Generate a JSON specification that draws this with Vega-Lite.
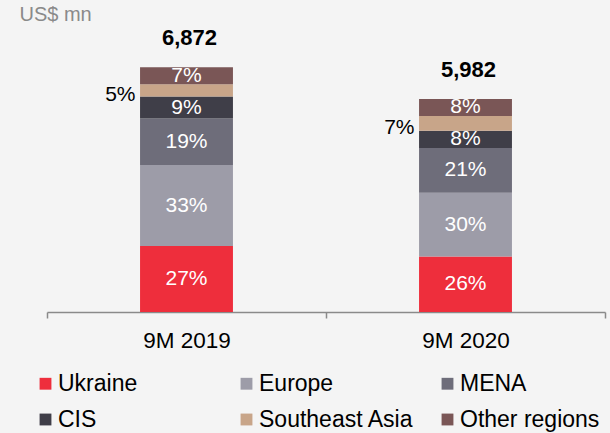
{
  "$schema": "https://vega.github.io/schema/vega-lite/v6.json",
  "width": 558,
  "height": 285,
  "autosize": {"type": "none"},
  "padding": {"left": 47, "top": 27, "right": 5, "bottom": 121},
  "background": "#f4f4f4",
  "config": {"view": {"stroke": null}, "font": "Liberation Sans"},
  "datasets": {
    "regions": [
      {"period": "9M 2019", "region": "Ukraine", "value": 1855, "pct": "27%", "order": 1},
      {"period": "9M 2019", "region": "Europe", "value": 2268, "pct": "33%", "order": 2},
      {"period": "9M 2019", "region": "MENA", "value": 1306, "pct": "19%", "order": 3},
      {"period": "9M 2019", "region": "CIS", "value": 618, "pct": "9%", "order": 4},
      {"period": "9M 2019", "region": "Southeast Asia", "value": 344, "pct": "5%", "order": 5},
      {"period": "9M 2019", "region": "Other regions", "value": 481, "pct": "7%", "order": 6},
      {"period": "9M 2020", "region": "Ukraine", "value": 1555, "pct": "26%", "order": 1},
      {"period": "9M 2020", "region": "Europe", "value": 1795, "pct": "30%", "order": 2},
      {"period": "9M 2020", "region": "MENA", "value": 1256, "pct": "21%", "order": 3},
      {"period": "9M 2020", "region": "CIS", "value": 479, "pct": "8%", "order": 4},
      {"period": "9M 2020", "region": "Southeast Asia", "value": 419, "pct": "7%", "order": 5},
      {"period": "9M 2020", "region": "Other regions", "value": 478, "pct": "8%", "order": 6}
    ],
    "totals": [
      {"period": "9M 2019", "total": 6872, "label": "6,872"},
      {"period": "9M 2020", "total": 5982, "label": "5,982"}
    ]
  },
  "layer": [
    {
      "data": {"name": "regions"},
      "transform": [
        {"stack": "value", "groupby": ["period"], "sort": [{"field": "order"}], "as": ["y0", "y1"]}
      ],
      "mark": {"type": "bar", "width": {"band": 0.333}},
      "encoding": {
        "x": {"field": "period", "type": "nominal", "title": null,
              "scale": {"paddingInner": 0, "paddingOuter": 0},
              "axis": {"labelAngle": 0, "labelFontSize": 22.5, "labelColor": "#000", "labelFont": "Liberation Sans",
                       "domainColor": "#8a8a8a", "domainWidth": 1.5, "tickColor": "#8a8a8a", "tickWidth": 1.5, "tickSize": 6,
                       "tickBand": "extent", "labelPadding": 11}},
        "y": {"field": "y0", "type": "quantitative", "scale": {"domain": [0, 8000]},
              "axis": {"labels": false, "ticks": false, "domain": false, "grid": false,
                       "title": "US$ mn", "titleAngle": 0, "titleX": -28, "titleY": -13, "titleAlign": "left",
                       "titleBaseline": "middle", "titleFontSize": 20, "titleFontWeight": "normal",
                       "titleColor": "#8a8a8a", "titleFont": "Liberation Sans"}},
        "y2": {"field": "y1"},
        "color": {"field": "region", "type": "nominal",
                  "scale": {"domain": ["Ukraine", "Europe", "MENA", "CIS", "Southeast Asia", "Other regions"],
                            "range": ["#ee2e3c", "#9d9ca8", "#6e6d7a", "#3f3e48", "#c8a589", "#7a5656"]},
                  "legend": {"title": null, "orient": "none", "legendX": -13, "legendY": 345, "columns": 3,
                             "direction": "horizontal", "gridAlign": "all", "symbolType": "square", "symbolSize": 140,
                             "symbolStrokeWidth": 0, "labelFontSize": 23, "labelColor": "#000", "labelFont": "Liberation Sans",
                             "labelOffset": 1, "columnPadding": 22, "rowPadding": 12, "labelLimit": 300}}
      }
    },
    {
      "data": {"name": "regions"},
      "transform": [
        {"stack": "value", "groupby": ["period"], "sort": [{"field": "order"}], "as": ["y0", "y1"]},
        {"calculate": "(datum.y0 + datum.y1) / 2", "as": "mid"},
        {"filter": "datum.region !== 'Southeast Asia'"}
      ],
      "mark": {"type": "text", "color": "white", "fontSize": 21, "font": "Liberation Sans", "baseline": "middle"},
      "encoding": {
        "x": {"field": "period", "type": "nominal"},
        "y": {"field": "mid", "type": "quantitative"},
        "text": {"field": "pct"}
      }
    },
    {
      "data": {"name": "regions"},
      "transform": [
        {"stack": "value", "groupby": ["period"], "sort": [{"field": "order"}], "as": ["y0", "y1"]},
        {"calculate": "(datum.y0 + datum.y1) / 2", "as": "mid"},
        {"filter": "datum.region === 'Southeast Asia'"}
      ],
      "mark": {"type": "text", "color": "black", "fontSize": 21, "font": "Liberation Sans", "baseline": "middle", "align": "right", "dx": -51, "dy": 5},
      "encoding": {
        "x": {"field": "period", "type": "nominal"},
        "y": {"field": "mid", "type": "quantitative"},
        "text": {"field": "pct"}
      }
    },
    {
      "data": {"name": "totals"},
      "mark": {"type": "text", "color": "black", "fontSize": 22, "fontWeight": "bold", "font": "Liberation Sans", "baseline": "middle", "dy": -29, "dx": 3},
      "encoding": {
        "x": {"field": "period", "type": "nominal"},
        "y": {"field": "total", "type": "quantitative"},
        "text": {"field": "label"}
      }
    }
  ]
}
